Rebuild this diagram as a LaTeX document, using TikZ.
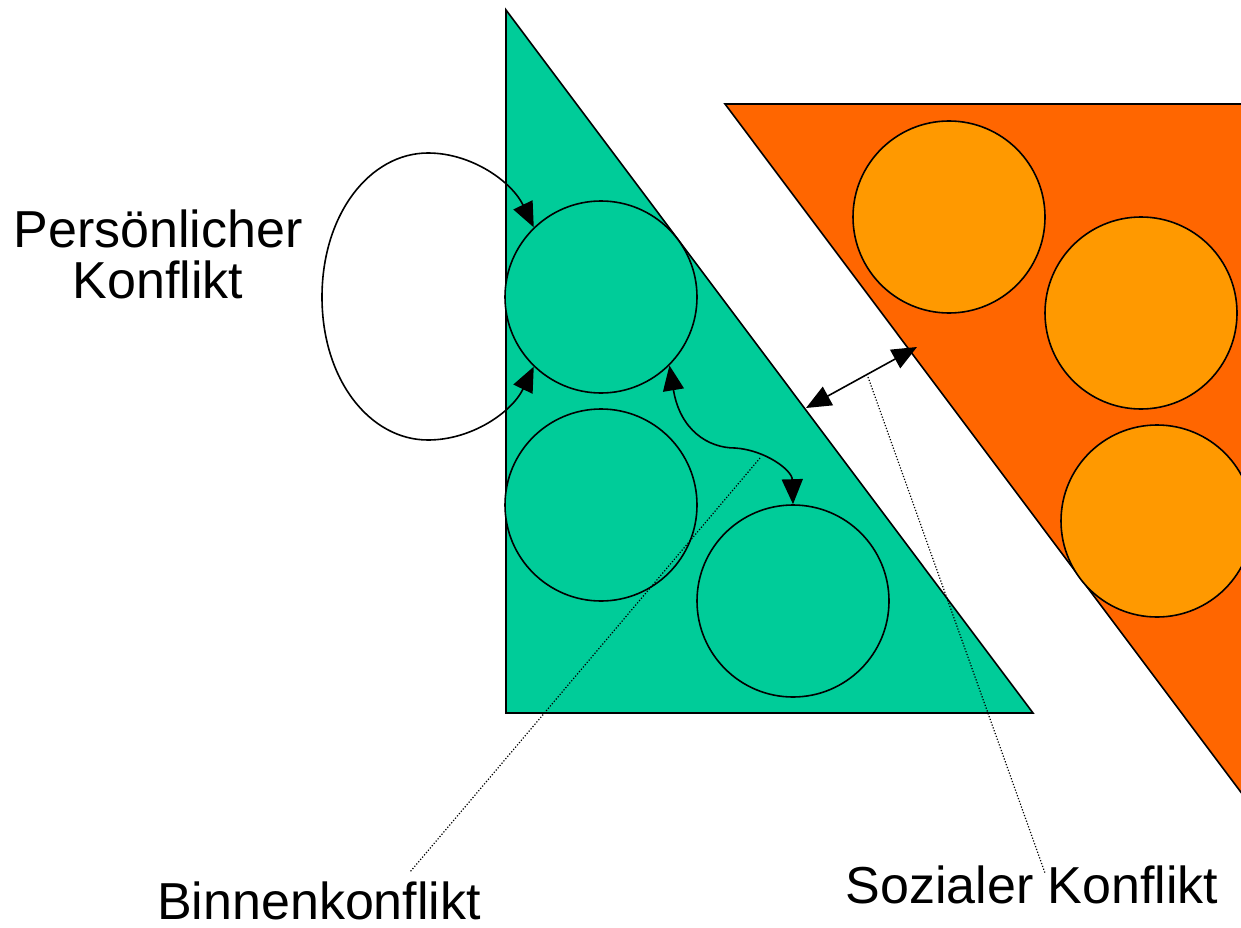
\documentclass[tikz,border=0pt]{standalone}
\usepackage{fontspec}
\setmainfont{Liberation Sans}
\usetikzlibrary{arrows.meta}
\definecolor{tgreen}{HTML}{00CC99}
\definecolor{torange}{HTML}{FF6600}
\definecolor{corange}{HTML}{FF9900}
\tikzset{
  edge/.style={line width=1.6pt, draw=black},
  member/.style={circle, edge, minimum size=192pt, inner sep=0pt},
  conflict/.style={line width=1.6pt, {Triangle[length=25pt,width=21pt]}-{Triangle[length=25pt,width=21pt]}},
  leader/.style={line width=1.2pt, dash pattern=on 1.2pt off 1.8pt},
  caption/.style={font=\fontsize{52}{51}\selectfont, inner sep=0pt, align=center},
  footcaption/.style={caption, anchor=base, text depth=0pt}
}
\begin{document}
\begin{tikzpicture}[x=1pt,y=-1pt]
\useasboundingbox (0,0) rectangle (1241,928);
\clip (0,0) rectangle (1241,928);
% second group
\draw[edge, fill=torange] (725,104) -- (1300,104) -- (1300,871) -- cycle;
\node[member, fill=corange] (o1) at (949,217) {};
\node[member, fill=corange] (o2) at (1141,313) {};
\node[member, fill=corange] (o3) at (1157,521) {};
% first group
\draw[edge, fill=tgreen] (506,10) -- (506,713) -- (1033,713) -- cycle;
\node[member, fill=tgreen] (g1) at (601,297) {};
\node[member, fill=tgreen] (g2) at (601,505) {};
\node[member, fill=tgreen] (g3) at (793,601) {};
% contact points on the two group borders
\coordinate (gside) at (806,408);
\coordinate (oside) at (917,347);
% personal conflict: loop on one member
\draw[conflict] (g1.226) .. controls (512,412) and (472,440) .. (428,440)
  .. controls (370,440) and (322,380) .. (322,297)
  .. controls (322,214) and (370,153) .. (428,153)
  .. controls (472,153) and (512,182) .. (g1.134);
% inner conflict between two members
\draw[conflict] (g1.315) .. controls (680,430) and (708,448) .. (735,448)
  .. controls (765,450) and (792,470) .. (g3.90);
% social conflict between the groups
\draw[conflict] (gside) -- (oside);
% labels
\node[caption] (pers) at (158,254) {Persönlicher\\Konflikt};
\node[footcaption] (binnen) at (319,919) {Binnenkonflikt};
\node[footcaption] (sozial) at (1032,903) {Sozialer Konflikt};
\coordinate (binnenfoot) at (410,872);
\coordinate (sozialfoot) at (1045,873);
\coordinate (binnenhead) at (760,458);
\coordinate (sozialhead) at (868,377);
\draw[leader] (binnenhead) -- (binnenfoot);
\draw[leader] (sozialhead) -- (sozialfoot);
\end{tikzpicture}
\end{document}
